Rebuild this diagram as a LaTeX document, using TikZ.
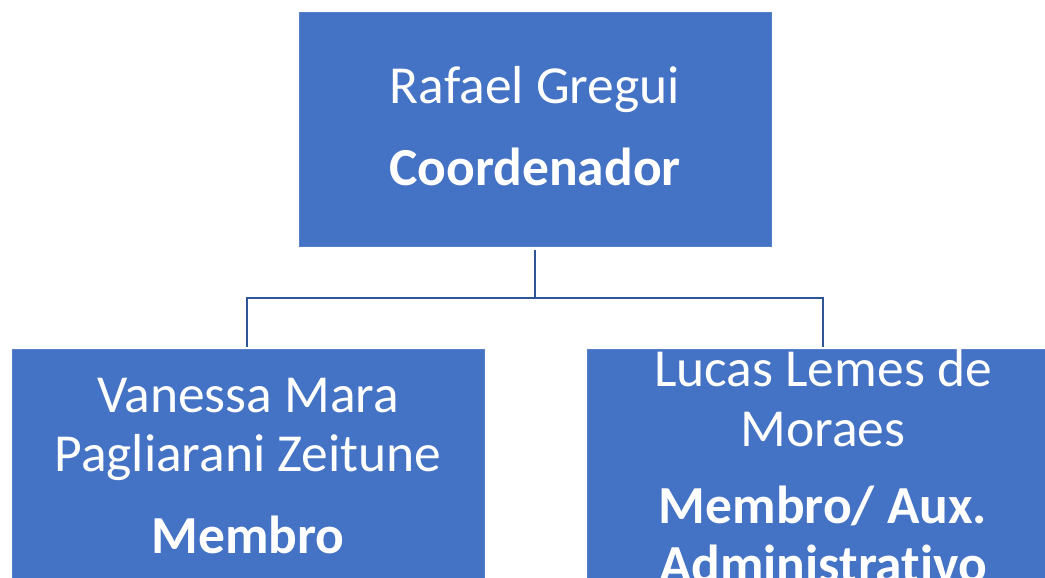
\documentclass[tikz,border=0pt]{standalone}
\usepackage{fontspec}
\setmainfont{Carlito}[Ligatures=NoCommon]
\definecolor{boxblue}{HTML}{4472C4}
\definecolor{linkblue}{HTML}{2F5597}
\begin{document}
\begin{tikzpicture}[x=1pt,y=-1pt,
  orgbox/.style={draw=boxblue!90!white,line width=0.8pt,fill=boxblue,minimum width=472pt,minimum height=234pt,inner sep=0pt,anchor=north west},
  lbl/.style={text=white,anchor=base,inner sep=0pt,font=\fontsize{53.5}{60}\selectfont},
  blbl/.style={lbl,font=\fontsize{53.5}{60}\selectfont\bfseries},
  link/.style={draw=linkblue,line width=2.4pt}]
\useasboundingbox (0,0) rectangle (1045,578);
\clip (0,0) rectangle (1045,578);
\node[orgbox] (top) at (299,12) {};
\node[orgbox] (left) at (12,349) {};
\node[orgbox] (right) at (587,349) {};
\node[lbl] (t1) at (535,103) {Rafael Gregui};
\node[blbl] (t2) at (535,185) {Coordenador};
\node[lbl] (l1) at (248,412) {Vanessa Mara};
\node[lbl] (l2) at (248,471) {Pagliarani Zeitune};
\node[blbl] (l3) at (248,553) {Membro};
\node[lbl] (r1) at (823,386) {Lucas Lemes de};
\node[lbl] (r2) at (823,446) {Moraes};
\node[blbl] (r3) at (823,523) {Membro/ Aux.};
\node[blbl] (r4) at (823,582) {Administrativo};
\coordinate (hub) at (535,298);
\coordinate (topfoot) at (535,250);
\coordinate (lfoot) at (247,347);
\coordinate (rfoot) at (823,347);
\draw[link] (topfoot) -- (hub);
\draw[link] (lfoot) |- (hub) -| (rfoot);
\end{tikzpicture}
\end{document}
